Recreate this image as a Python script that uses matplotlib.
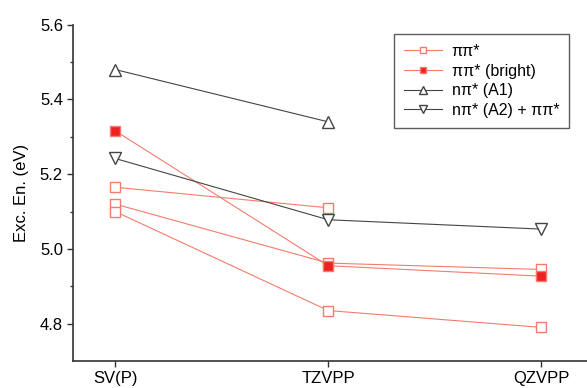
import numpy as np
import matplotlib
matplotlib.use("Agg")
import matplotlib.pyplot as plt

plt.rcParams['font.family'] = ['Liberation Sans', 'DejaVu Sans']

basis = ["SV(P)", "TZVPP", "QZVPP"]
pipi_a = [5.165, 5.110, np.nan]
pipi_b = [5.120, 4.962, 4.945]
pipi_c = [5.100, 4.835, 4.790]
pipi_bright = [5.316, 4.955, 4.927]
npi_a1 = [5.480, 5.340, np.nan]
npi_a2 = [5.242, 5.078, 5.053]

red_line = "#f47c6c"
red_fill = "#ee2222"
gray = "#444444"

fig = plt.figure(figsize=(5.87, 3.88), dpi=100)
ax = fig.add_axes([0.1238, 0.0696, 0.8762, 0.8667])
x = np.arange(len(basis))

sq = dict(marker='s', ms=6.5, mfc='white', mec=red_line, mew=1.0, color=red_line, lw=0.8)
h1, = ax.plot(x, pipi_a, **sq, label="ππ*")
ax.plot(x, pipi_b, **sq)
ax.plot(x, pipi_c, **sq)
h2, = ax.plot(x, pipi_bright, marker='s', ms=6.5, mfc=red_fill, mec=red_line, mew=1.0,
              color=red_line, lw=0.8, label="ππ* (bright)")
h3, = ax.plot(x, npi_a1, marker='^', ms=8, mfc='white', mec=gray, mew=1.0, color=gray,
              lw=0.8, label="nπ* (A1)")
h4, = ax.plot(x, npi_a2, marker='v', ms=8, mfc='white', mec=gray, mew=1.0, color=gray,
              lw=0.8, label="nπ* (A2) + ππ*")

ax.set_xlim(-0.2, 2.215)
ax.set_ylim(4.7, 5.6)
ax.set_xticks(x)
ax.set_xticklabels(basis, fontsize=12)
ax.set_yticks([4.8, 5.0, 5.2, 5.4, 5.6])
ax.set_yticks(np.arange(4.8, 5.61, 0.1), minor=True)
ax.set_yticklabels(["4.8", "5.0", "5.2", "5.4", "5.6"], fontsize=12)
ax.set_ylabel("Exc. En. (eV)", fontsize=12, labelpad=8)

for s in ['top', 'right']:
    ax.spines[s].set_visible(False)
for s in ['left', 'bottom']:
    ax.spines[s].set_color('#333333')
    ax.spines[s].set_linewidth(1.2)
ax.tick_params(axis='both', which='major', direction='out', length=4, width=1.0,
               color='#333333', labelcolor='black', pad=3)
ax.tick_params(axis='y', which='minor', direction='out', length=2, width=1.0, color='#333333')
ax.tick_params(axis='x', which='minor', bottom=False)

leg = ax.legend(handles=[h1, h2, h3, h4], loc='upper right', bbox_to_anchor=(0.965, 0.972),
                borderaxespad=0, fontsize=11.5, handlelength=2.4, handletextpad=0.6,
                labelspacing=0.3, borderpad=0.6, fancybox=False, frameon=True,
                markerscale=0.75)
leg.get_frame().set_edgecolor('#333333')
leg.get_frame().set_linewidth(1.0)

fig.savefig("out.png", dpi=100)
